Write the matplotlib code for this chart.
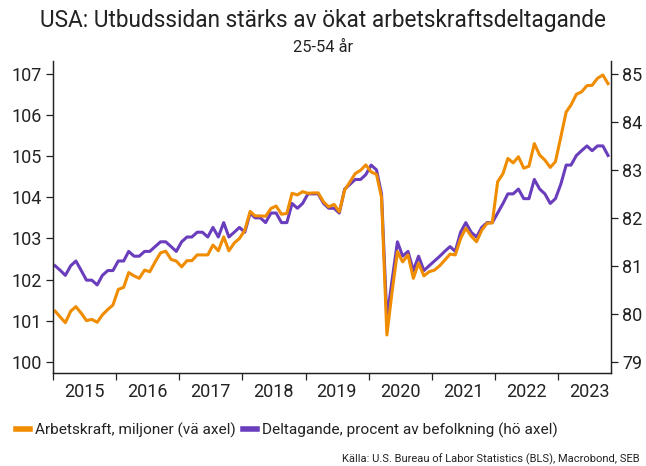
import numpy as np
import pandas as pd
import matplotlib
matplotlib.use('Agg')
import matplotlib.pyplot as plt
import matplotlib.dates as mdates
from matplotlib.ticker import NullFormatter
from matplotlib.lines import Line2D

# monthly data, Jan 2015 - Oct 2023 (25-54 year olds)
months = pd.date_range('2015-01-01', '2023-10-01', freq='MS')

labour_force = [
    101.23, 101.08, 100.95, 101.23, 101.34, 101.18, 101.00, 101.03, 100.96, 101.14, 101.27, 101.38,  # 2015
    101.76, 101.81, 102.17, 102.09, 102.03, 102.23, 102.19, 102.43, 102.65, 102.69, 102.49, 102.45,  # 2016
    102.31, 102.46, 102.46, 102.60, 102.60, 102.60, 102.84, 102.70, 103.04, 102.70, 102.89, 103.00,  # 2017
    103.20, 103.66, 103.55, 103.55, 103.54, 103.73, 103.79, 103.59, 103.61, 104.10, 104.06, 104.14,  # 2018
    104.10, 104.11, 104.11, 103.89, 103.77, 103.83, 103.65, 104.18, 104.38, 104.58, 104.66, 104.79,  # 2019
    104.62, 104.56, 104.00, 100.65, 101.70, 102.68, 102.43, 102.60, 102.03, 102.40, 102.09, 102.19,  # 2020
    102.23, 102.34, 102.47, 102.62, 102.60, 103.00, 103.25, 103.06, 102.92, 103.20, 103.37, 103.38,  # 2021
    104.38, 104.58, 104.95, 104.84, 104.99, 104.71, 104.76, 105.31, 105.03, 104.91, 104.73, 104.87,  # 2022
    105.47, 106.08, 106.25, 106.51, 106.57, 106.72, 106.73, 106.90, 106.98, 106.77,                  # 2023
]

participation = [
    81.0, 80.9, 80.8, 81.0, 81.1, 80.9, 80.7, 80.7, 80.6, 80.8, 80.9, 80.9,  # 2015
    81.1, 81.1, 81.3, 81.2, 81.2, 81.3, 81.3, 81.4, 81.5, 81.5, 81.4, 81.3,  # 2016
    81.5, 81.6, 81.6, 81.7, 81.7, 81.6, 81.8, 81.6, 81.9, 81.6, 81.7, 81.8,  # 2017
    81.7, 82.1, 82.0, 82.0, 81.9, 82.1, 82.1, 81.9, 81.9, 82.3, 82.2, 82.3,  # 2018
    82.5, 82.5, 82.5, 82.3, 82.2, 82.2, 82.1, 82.6, 82.7, 82.8, 82.8, 82.9,  # 2019
    83.1, 83.0, 82.5, 79.9, 80.7, 81.5, 81.2, 81.3, 80.9, 81.2, 80.9, 81.0,  # 2020
    81.1, 81.2, 81.3, 81.4, 81.3, 81.7, 81.9, 81.7, 81.6, 81.8, 81.9, 81.9,  # 2021
    82.1, 82.3, 82.5, 82.5, 82.6, 82.4, 82.4, 82.8, 82.6, 82.5, 82.3, 82.4,  # 2022
    82.7, 83.1, 83.1, 83.3, 83.4, 83.5, 83.4, 83.5, 83.5, 83.3,              # 2023
]

left_ticks = list(range(100, 108))
right_ticks = list(range(79, 86))

ORANGE = '#F08C00'
PURPLE = '#6A3DBD'
DARK = '#222222'

plt.rcParams['font.family'] = ['Roboto', 'DejaVu Sans']

fig = plt.figure(figsize=(6.46, 4.66), dpi=100)
ax = fig.add_axes([0.0816, 0.1996, 0.8642, 0.6694])
ax2 = ax.twinx()

# plot at mid-month
x = months + pd.Timedelta(days=14)
ax2.plot(x, participation, color=PURPLE, lw=2.2, solid_joinstyle='round')
ax.plot(x, labour_force, color=ORANGE, lw=2.2, solid_joinstyle='round')

# orange line on top of the purple one
ax.set_zorder(ax2.get_zorder() + 1)
ax.patch.set_visible(False)

ax.set_xlim(pd.Timestamp('2015-01-01'), pd.Timestamp('2023-11-01'))
ax.set_ylim(99.725, 107.32)
ax2.set_ylim(78.764, 85.27)
ax.set_yticks(left_ticks)
ax2.set_yticks(right_ticks)

ax.xaxis.set_major_locator(mdates.YearLocator())
ax.xaxis.set_major_formatter(NullFormatter())
ax.xaxis.set_minor_locator(mdates.MonthLocator(bymonth=7, bymonthday=1))
ax.xaxis.set_minor_formatter(mdates.DateFormatter('%Y'))

for a in (ax, ax2):
    a.spines['top'].set_visible(False)
    for s in ('left', 'right', 'bottom'):
        a.spines[s].set_color(DARK)
        a.spines[s].set_linewidth(0.9)
    a.tick_params(axis='both', which='major', direction='out', length=5,
                  width=0.9, color=DARK, labelsize=13, labelcolor=DARK, pad=3)
ax.tick_params(axis='x', which='minor', length=0, labelsize=13, pad=7, labelcolor=DARK)

fig.text(0.5, 1 - 20 / 466, 'USA: Utbudssidan stärks av ökat arbetskraftsdeltagande',
         ha='center', va='center', fontsize=16.3, color=DARK)
fig.text(0.5, 1 - 48 / 466, '25-54 år', ha='center', va='center', fontsize=11.8, color=DARK)

handles = [Line2D([], [], color=ORANGE, lw=4), Line2D([], [], color=PURPLE, lw=4)]
labels = ['Arbetskraft, miljoner (vä axel)', 'Deltagande, procent av befolkning (hö axel)']
fig.legend(handles, labels, loc='center left', bbox_to_anchor=(0.025, 1 - 430 / 466),
           ncol=2, frameon=False, fontsize=11.1, handlelength=0.9, handletextpad=0.3,
           columnspacing=0.5, borderaxespad=0, borderpad=0, labelcolor=DARK)

fig.text(0.99, 1 - 459 / 466, 'Källa: U.S. Bureau of Labor Statistics (BLS), Macrobond, SEB',
         ha='right', va='center', fontsize=8, color=DARK)

fig.savefig('out.png', dpi=100)
